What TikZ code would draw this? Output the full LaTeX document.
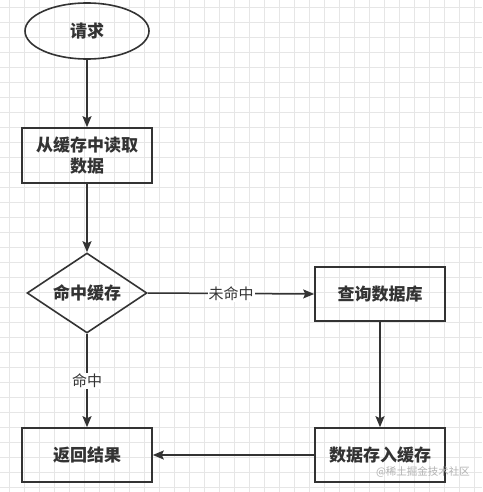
\documentclass[tikz,border=0pt]{standalone}
\usepackage{fontspec}
\newfontfamily\cjk{Noto Sans CJK SC}
\usepackage{tikz}
\usetikzlibrary{positioning}
\usetikzlibrary{shapes}
\usetikzlibrary{arrows.meta}
\definecolor{darkline}{HTML}{333333}
\definecolor{gridgray}{HTML}{E6E6E6}

\begin{document}
\begin{tikzpicture}[x=1pt, y=-1pt,
		block/.style={draw=darkline, line width=1.6pt, text=darkline, inner sep=0pt, align=center, font=\cjk\bfseries\fontsize{17}{21}\selectfont},
		flow/.style={draw=darkline, line width=1.5pt, -{Stealth[length=11pt, width=9pt, inset=2pt]}},
		lbl/.style={fill=white, text=darkline, inner sep=1pt, font=\cjk\fontsize{15}{18}\selectfont}]
			\useasboundingbox (0,0) rectangle (482,492);
			\fill[white] (0,0) rectangle (482,492);
			\foreach \gx in {9,24,...,474} \draw[gridgray, line width=0.6pt] (\gx,0) -- (\gx,492);
			\foreach \gy in {7,22,...,487} \draw[gridgray, line width=0.6pt] (0,\gy) -- (482,\gy);

			\node[block, ellipse, minimum width=124pt, minimum height=56pt] (1) at (87,31) {请求};

			\node[block, rectangle, minimum width=130pt, minimum height=55pt] (2) at (87,155.5) {从缓存中读取\\数据};

			\node[block, diamond, aspect=1.5, minimum width=120pt, minimum height=80pt] (3) at (87,293) {命中缓存};
			\node[block, rectangle, minimum width=130pt, minimum height=54pt] (4) at (380,294) {查询数据库};

			\node[block, rectangle, minimum width=130pt, minimum height=54pt] (5) at (380,455) {数据存入缓存};
			\node[block, rectangle, minimum width=130pt, minimum height=54pt] (6) at (87,455) {返回结果};

			\path[flow] (1) -- (2);
			\path[flow] (2) -- (3);
			\path[flow] (3.east) -- node[lbl] {未命中} (4.west);
			\path[flow] (3) -- node[lbl] {命中} (6);
			\path[flow] (4) -- (5);
			\path[flow] (5) -- (6);

			\node[text=gray!60, inner sep=0pt, font=\cjk\fontsize{10.5}{12}\selectfont] (7) at (423,472) {@稀土掘金技术社区};
        \end{tikzpicture}
\end{document}
